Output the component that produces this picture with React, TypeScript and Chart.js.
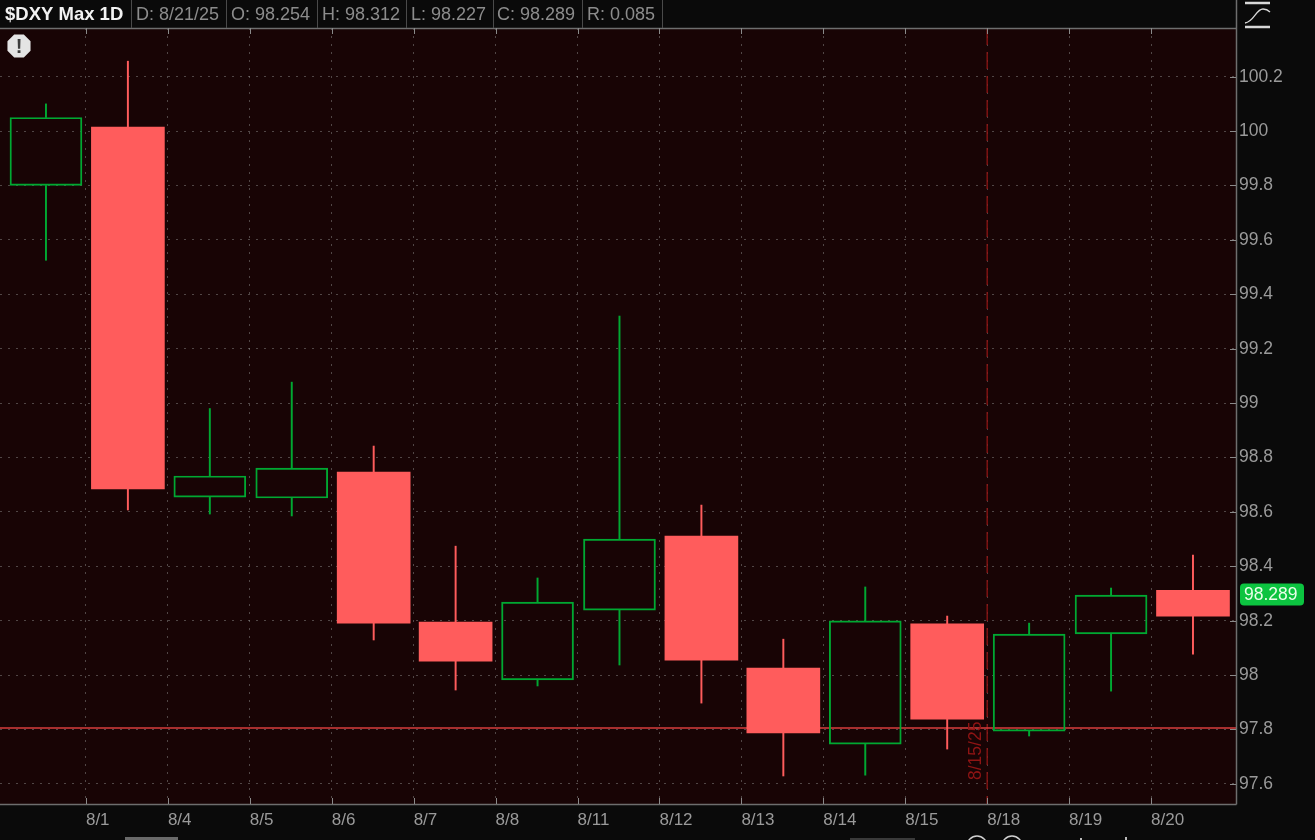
import React, { useEffect, useRef } from "react";
import { Chart, registerables } from "chart.js";

Chart.register(...registerables);

const sessions = ["7/31", "8/1", "8/4", "8/5", "8/6", "8/7", "8/8", "8/11", "8/12", "8/13", "8/14", "8/15", "8/18", "8/19", "8/20"];
const opens = [99.8, 100.015, 98.654, 98.651, 98.746, 98.195, 97.982, 98.239, 98.511, 98.026, 97.746, 98.188, 97.794, 98.151, 98.312];
const highs = [100.1, 100.257, 98.98, 99.077, 98.842, 98.474, 98.357, 99.32, 98.625, 98.132, 98.324, 98.217, 98.191, 98.32, 98.441];
const lows = [99.525, 98.607, 98.592, 98.585, 98.129, 97.945, 97.96, 98.037, 97.897, 97.629, 97.632, 97.728, 97.776, 97.941, 98.077];
const closes = [100.05, 98.684, 98.732, 98.761, 98.191, 98.051, 98.268, 98.5, 98.055, 97.787, 98.199, 97.838, 98.151, 98.294, 98.217];
const xTickLabels = ["8/1", "8/4", "8/5", "8/6", "8/7", "8/8", "8/11", "8/12", "8/13", "8/14", "8/15", "8/18", "8/19", "8/20"];
const yTicks = [97.6, 97.8, 98, 98.2, 98.4, 98.6, 98.8, 99, 99.2, 99.4, 99.6, 99.8, 100, 100.2];
const headerCells = ["$DXY Max 1D", "D: 8/21/25", "O: 98.254", "H: 98.312", "L: 98.227", "C: 98.289", "R: 0.085"];
const lastPrice = 98.289;
const supportLevel = 97.805;
const markerDateLabel = "8/15/25";
const markerPosition = 11.488;

const RED = "#ff5c5c";
const GREEN = "#00a832";
const FONT = '"Liberation Sans", Arial, sans-serif';
const HEADER_TEXT_X = [5, 136, 231, 322, 411, 497, 587];
const HEADER_SEPARATORS = [131, 226, 317, 406, 493, 582, 662];

const idx = sessions.map((_, i) => i);
const up = idx.filter((i) => closes[i] > opens[i]);
const down = idx.filter((i) => closes[i] <= opens[i]);

const chrome = {
  id: "chrome",
  beforeDraw(c: any) {
    const { ctx, chartArea: a } = c;
    ctx.save();
    ctx.fillStyle = "#0a0a0a";
    ctx.fillRect(0, 0, c.width, c.height);
    ctx.fillStyle = "#180405";
    ctx.fillRect(a.left, a.top, a.right - a.left, a.bottom - a.top);
    ctx.restore();
  },
  afterDraw(c: any) {
    const { ctx, chartArea: a, scales } = c;
    ctx.save();
    // frame
    ctx.strokeStyle = "#6e6e6e";
    ctx.lineWidth = 1.5;
    ctx.beginPath();
    ctx.moveTo(0, a.top + 0.5); ctx.lineTo(a.right + 0.5, a.top + 0.5);
    ctx.moveTo(0, a.bottom + 0.5); ctx.lineTo(a.right + 0.5, a.bottom + 0.5);
    ctx.moveTo(a.right + 0.5, 0); ctx.lineTo(a.right + 0.5, a.bottom + 0.5);
    ctx.stroke();
    // inner tick marks
    ctx.lineWidth = 1;
    ctx.strokeStyle = "#8a8a8a";
    ctx.beginPath();
    scales.x.ticks.forEach((t: any) => {
      const x = Math.round(scales.x.getPixelForValue(t.value)) + 0.5;
      ctx.moveTo(x, a.top); ctx.lineTo(x, a.top + 6);
      ctx.moveTo(x, a.bottom - 6); ctx.lineTo(x, a.bottom);
    });
    scales.y.ticks.forEach((t: any) => {
      const y = Math.round(scales.y.getPixelForValue(t.value)) + 0.5;
      ctx.moveTo(a.right - 6, y); ctx.lineTo(a.right, y);
    });
    ctx.stroke();

    // header cells
    ctx.textBaseline = "middle";
    ctx.textAlign = "left";
    headerCells.forEach((s, i) => {
      ctx.font = i === 0 ? `bold 18.5px ${FONT}` : `18px ${FONT}`;
      ctx.fillStyle = i === 0 ? "#f2f2f2" : "#8c8c8c";
      ctx.fillText(s, HEADER_TEXT_X[i], 15);
    });
    ctx.strokeStyle = "#4a4a4a";
    ctx.beginPath();
    HEADER_SEPARATORS.forEach((x) => { ctx.moveTo(x + 0.5, 0); ctx.lineTo(x + 0.5, a.top); });
    ctx.stroke();

    // alert badge
    ctx.fillStyle = "#e4e4e4";
    ctx.beginPath();
    for (let k = 0; k < 8; k++) {
      const ang = Math.PI / 8 + (k * Math.PI) / 4;
      ctx.lineTo(19 + 12.5 * Math.cos(ang), 46 + 12.5 * Math.sin(ang));
    }
    ctx.closePath();
    ctx.fill();
    ctx.fillStyle = "#3c3c3c";
    ctx.font = `bold 20px ${FONT}`;
    ctx.textAlign = "center";
    ctx.fillText("!", 19, 47);

    // rotated marker date
    ctx.save();
    ctx.translate(scales.x.getPixelForValue(markerPosition) - 11, 780);
    ctx.rotate(-Math.PI / 2);
    ctx.fillStyle = "#8f1414";
    ctx.font = `17.5px ${FONT}`;
    ctx.textAlign = "left";
    ctx.fillText(markerDateLabel, 0, 0);
    ctx.restore();

    // last price tag
    const yp = scales.y.getPixelForValue(lastPrice);
    ctx.fillStyle = "#0cc440";
    ctx.beginPath();
    ctx.roundRect(1240, yp - 13, 64, 22, 4);
    ctx.fill();
    ctx.fillStyle = "#e8ffe8";
    ctx.font = `17.5px ${FONT}`;
    ctx.textAlign = "left";
    ctx.fillText(String(lastPrice), 1244, yp - 1);

    // panel icon top right
    ctx.strokeStyle = "#d8d8d8";
    ctx.lineWidth = 2.5;
    ctx.beginPath();
    ctx.moveTo(1245, 3); ctx.lineTo(1270, 3);
    ctx.moveTo(1245, 27); ctx.lineTo(1270, 27);
    ctx.stroke();
    ctx.lineWidth = 1.3;
    ctx.beginPath();
    ctx.moveTo(1245, 23);
    ctx.bezierCurveTo(1254, 22, 1256, 9, 1263, 9);
    ctx.quadraticCurveTo(1267, 9, 1270, 12);
    ctx.stroke();

    // clipped controls along the bottom edge
    ctx.fillStyle = "#6a6a6a";
    ctx.fillRect(125, 837, 53, 3);
    ctx.fillStyle = "#3a3a3a";
    ctx.fillRect(850, 838, 65, 2);
    ctx.strokeStyle = "#d0d0d0";
    ctx.lineWidth = 1.5;
    [977, 1012].forEach((x) => {
      ctx.beginPath();
      ctx.arc(x, 846, 10, 0, Math.PI * 2);
      ctx.stroke();
    });
    ctx.fillStyle = "#bbbbbb";
    ctx.fillRect(1080, 838, 2, 2);
    ctx.fillRect(1125, 837, 2, 3);
    ctx.restore();
  },
};

export default function App() {
  const ref = useRef<HTMLCanvasElement | null>(null);
  useEffect(() => {
    const chart = new Chart(ref.current as HTMLCanvasElement, {
      type: "bar",
      plugins: [chrome],
      data: {
        datasets: [
          {
            type: "line",
            data: [{ x: -1, y: supportLevel }, { x: 15, y: supportLevel }],
            borderColor: "#d83c3c",
            borderWidth: 1.5,
            pointRadius: 0,
            order: 5,
          },
          {
            type: "line",
            data: [{ x: markerPosition, y: 100.379 }, { x: markerPosition, y: 97.526 }],
            borderColor: "#8e1515",
            borderWidth: 1.3,
            borderDash: [17, 7],
            pointRadius: 0,
            order: 5,
          },
          {
            label: "upper wick",
            data: idx.map((i) => ({ x: i, y: [Math.max(opens[i], closes[i]), highs[i]] })),
            backgroundColor: idx.map((i) => (closes[i] > opens[i] ? GREEN : RED)),
            barThickness: 1.3,
            order: 3,
          },
          {
            label: "lower wick",
            data: idx.map((i) => ({ x: i, y: [lows[i], Math.min(opens[i], closes[i])] })),
            backgroundColor: idx.map((i) => (closes[i] > opens[i] ? GREEN : RED)),
            barThickness: 1.3,
            order: 3,
          },
          {
            label: "up",
            data: up.map((i) => ({ x: i, y: [opens[i], closes[i]] })),
            backgroundColor: "rgba(0,0,0,0)",
            borderColor: GREEN,
            borderWidth: 1.3,
            borderSkipped: false,
            barThickness: 72,
            order: 2,
          },
          {
            label: "down",
            data: down.map((i) => ({ x: i, y: [closes[i], opens[i]] })),
            backgroundColor: RED,
            borderWidth: 0,
            barThickness: 73,
            order: 1,
          },
        ] as any,
      },
      options: {
        responsive: false,
        animation: false,
        devicePixelRatio: 1,
        layout: { padding: { top: 28, left: 0, right: 0, bottom: 0 } },
        plugins: { legend: { display: false }, tooltip: { enabled: false } },
        datasets: { bar: { grouped: false } },
        scales: {
          x: {
            type: "linear",
            offset: false,
            min: -0.561,
            max: 14.525,
            afterBuildTicks: (s: any) => {
              s.ticks = xTickLabels.map((_, i) => ({ value: i + 0.488 }));
            },
            afterFit: (s: any) => { s.height = 36; },
            grid: { offset: false, color: "rgba(150,150,150,0.45)", drawTicks: false },
            border: { display: false, dash: [2, 6] },
            ticks: {
              autoSkip: false,
              maxRotation: 0,
              align: "start",
              padding: 6,
              color: "#9a9a9a",
              font: { family: FONT, size: 17 },
              callback: (_v: any, i: number) => xTickLabels[i],
            },
          },
          y: {
            position: "right",
            min: 97.526,
            max: 100.379,
            afterBuildTicks: (s: any) => {
              s.ticks = yTicks.map((v) => ({ value: v }));
            },
            afterFit: (s: any) => { s.width = 79; },
            grid: { color: "rgba(150,150,150,0.45)", drawTicks: false },
            border: { display: false, dash: [2, 6] },
            ticks: {
              padding: 3,
              color: "#9a9a9a",
              font: { family: FONT, size: 17.5 },
              callback: (v: any) => String(v),
            },
          },
        },
      } as any,
    });
    return () => chart.destroy();
  }, []);
  return (
    <div style={{ position: "absolute", left: 0, top: 0, width: 1315, height: 840, overflow: "hidden", background: "#0a0a0a" }}>
      <canvas ref={ref} width={1315} height={840} style={{ display: "block" }} />
    </div>
  );
}
